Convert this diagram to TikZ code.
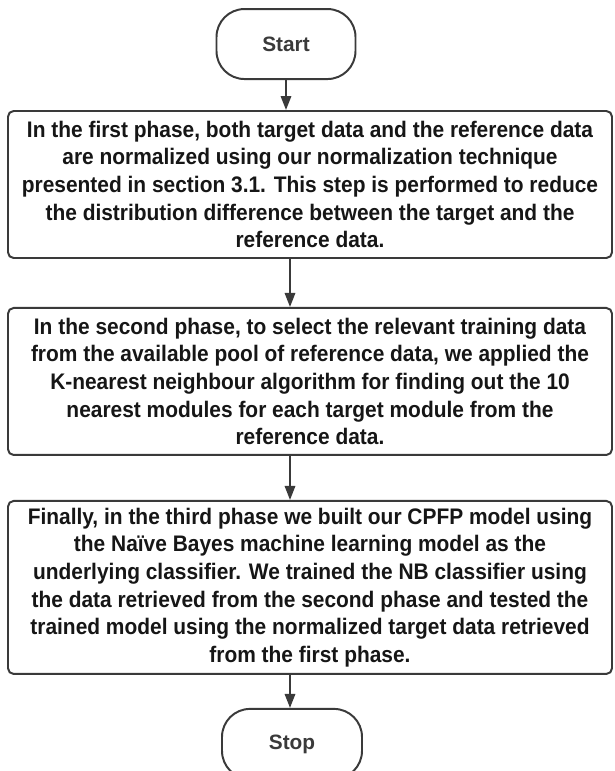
\documentclass[tikz,border=0pt]{standalone}
\usepackage{fontspec}
\setmainfont{Liberation Sans}
\usetikzlibrary{positioning, arrows.meta}

\definecolor{lineclr}{HTML}{3A3A3A}
\definecolor{textclr}{HTML}{161616}

\begin{document}
\begin{tikzpicture}[
    every node/.style={font=\addfontfeature{FakeStretch=0.93}\fontsize{16pt}{19.6pt}\selectfont\bfseries, text=textclr},
    phase/.style={rectangle, rounded corners=4pt, draw=lineclr, line width=1.4pt, minimum width=15.1cm, minimum height=3.675cm, align=center, inner sep=0pt},
    term/.style={rectangle, rounded corners=0.7cm, draw=lineclr, line width=1.4pt, minimum width=3.5cm, minimum height=1.75cm, font=\fontsize{14.8pt}{17pt}\selectfont\bfseries, text=lineclr},
    arrow/.style={-{Triangle[length=0.35cm, width=0.26cm]}, line width=1.4pt, draw=lineclr}]

  \useasboundingbox (0,0) rectangle (15.35,-19.275);

  \node[phase] (first) at (7.75,-4.6125) {In the first phase, both target data and the reference data\\are normalized using our normalization technique\\presented in section 3.1. This step is performed to reduce\\the distribution difference between the target and the\\reference data.};
  \node[term, above=0.75cm of first, xshift=-0.6cm, minimum width=3.475cm] (start) {Start};
  \node[phase, below=1.2cm of first] (second) {In the second phase, to select the relevant training data\\from the available pool of reference data, we applied the\\K-nearest neighbour algorithm for finding out the 10\\nearest modules for each target module from the\\reference data.};
  \node[phase, below=1.1cm of second, minimum height=4.325cm] (third) {Finally, in the third phase we built our CPFP model using\\the Naïve Bayes machine learning model as the\\underlying classifier. We trained the NB classifier using\\the data retrieved from the second phase and tested the\\trained model using the normalized target data retrieved\\from the first phase.};
  \node[term, below=0.825cm of third, xshift=-0.45cm] (stop) {Stop};

  \draw[arrow] (start.south) -- (start.south |- first.north);
  \draw[arrow] ([xshift=0.1cm]start.south |- first.south) -- ([xshift=0.1cm]start.south |- second.north);
  \draw[arrow] ([xshift=0.1cm]start.south |- second.south) -- ([xshift=0.1cm]start.south |- third.north);
  \draw[arrow] ([xshift=0.1cm]start.south |- third.south) -- ([xshift=0.1cm]start.south |- stop.north);
\end{tikzpicture}
\end{document}
